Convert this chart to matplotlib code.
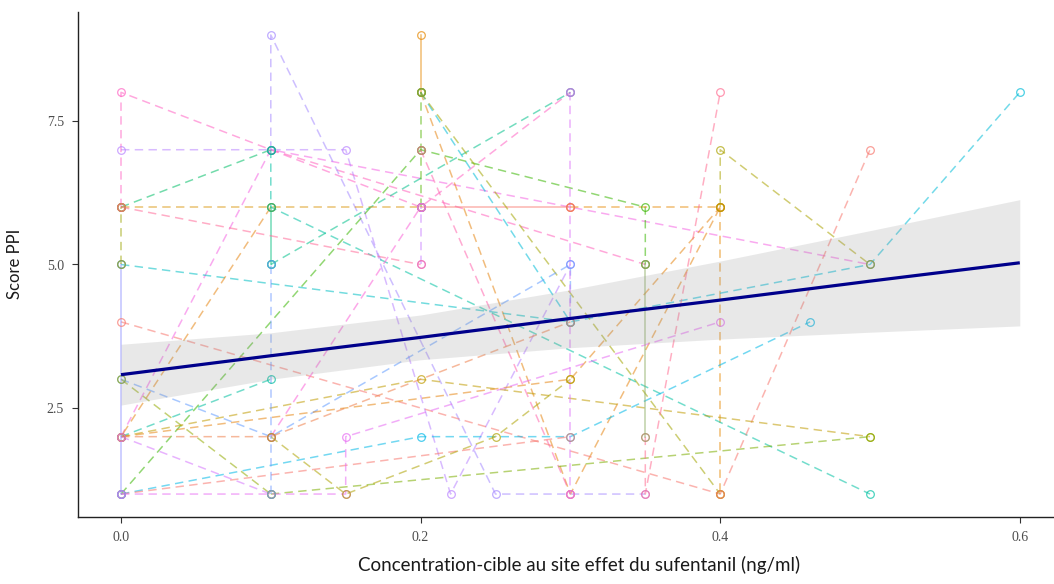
import matplotlib
matplotlib.use("Agg")
import matplotlib.pyplot as plt
import numpy as np
import pandas as pd

# ---------------- data ----------------
# long format: one row per observation, grouped by path id
path_id = ["A"]*5 + ["B"]*4 + ["C"]*2 + ["D"]*4 + ["E"]*4 + ["F"]*2 + ["G"]*4 + ["H"]*2 + ["I"]*3 \
        + ["J"]*2 + ["K"]*3 + ["L"]*2 + ["M"]*3 + ["N"]*2 + ["O"]*4 + ["P"]*2 + ["Q"]*2 + ["R"]*3 \
        + ["S"]*2 + ["T"]*3 + ["U"]*4 + ["V"]*2 + ["W"]*2 + ["X"]*3 + ["Y"]*4 + ["Z"]*3 + ["AA"]*2 \
        + ["AB"]*2 + ["AC"]*4 + ["AD"]*2 + ["AE"]*2 + ["AF"]*4 + ["AG"]*4 + ["AH"]*3 + ["AI"]*3 \
        + ["AJ"]*2 + ["AK"]*2 + ["AL"]*2 + ["AM"]*2 + ["AN"]*2 + ["AO"]*2 + ["AP"]*2 + ["AQ"]*2
conc = [0, 0, 0.1, 0.2, 0.3,          # A
        0, 0.1, 0.3, 0.5,             # B
        0.1, 0.35,                    # C
        0, 0.15, 0.22, 0.3,           # D
        0.1, 0.1, 0.25, 0.35,         # E
        0, 0.1,                       # F
        0, 0.2, 0.35, 0.35,           # G
        0.1, 0.3,                     # H
        0.2, 0.2, 0.2,                # I
        0, 0.2,                       # J
        0.3, 0.4, 0.4,                # K
        0.2, 0.3,                     # L
        0.2, 0.3, 0.4,                # M
        0.2, 0.2,                     # N
        0.2, 0.3, 0.5, 0.6,           # O
        0.2, 0.4,                     # P
        0.2, 0.3,                     # Q
        0.1, 0.1, 0.5,                # R
        0, 0.3,                       # S
        0, 0.4, 0.5,                  # T
        0, 0.1, 0.3, 0.3,             # U
        0, 0.1,                       # V
        0, 0.1,                       # W
        0, 0.2, 0.5,                  # X
        0.1, 0, 0.3, 0.4,             # Y
        0, 0.1, 0.3,                  # Z
        0.1, 0.2,                     # AA
        0, 0.1,                       # AB
        0, 0.2, 0.3, 0.46,            # AC
        0, 0.3,                       # AD
        0.1, 0.5,                     # AE
        0, 0.15, 0.15, 0.4,           # AF
        0.1, 0.15, 0.25, 0.3,         # AG
        0.35, 0.35, 0.4,              # AH
        0.4, 0.4, 0.5,                # AI
        0, 0,                         # AJ
        0, 0,                         # AK
        0.1, 0.1,                     # AL
        0.1, 0.1,                     # AM
        0.35, 0.35,                   # AN
        0.3, 0.3,                     # AO
        0.2, 0.2,                     # AP
        0, 0.2]                       # AQ
score = [6, 8, 7, 6, 8,               # A
         2, 7, 6, 5,                  # B
         7, 5,                        # C
         7, 7, 1, 5,                  # D
         7, 9, 1, 1,                  # E
         6, 7,                        # F
         1, 7, 6, 5,                  # G
         5, 8,                        # H
         6, 7, 8,                     # I
         6, 6,                        # J
         6, 6, 1,                     # K
         6, 6,                        # L
         8, 1, 6,                     # M
         8, 9,                        # N
         8, 4, 5, 8,                  # O
         8, 1,                        # P
         7, 1,                        # Q
         7, 6, 1,                     # R
         5, 4,                        # S
         4, 1, 7,                     # T
         3, 2, 5, 4,                  # U
         3, 1,                        # V
         2, 3,                        # W
         2, 3, 2,                     # X
         6, 2, 3, 6,                  # Y
         2, 2, 4,                     # Z
         2, 6,                        # AA
         2, 1,                        # AB
         1, 2, 2, 4,                  # AC
         1, 2,                        # AD
         1, 2,                        # AE
         1, 1, 2, 4,                  # AF
         2, 1, 2, 3,                  # AG
         2, 1, 8,                     # AH
         6, 7, 5,                     # AI
         1, 5,                        # AJ
         5, 6,                        # AK
         5, 6,                        # AL
         1, 5,                        # AM
         2, 5,                        # AN
         8, 1,                        # AO
         5, 6,                        # AP
         6, 5]                        # AQ

# linear fit and its confidence band, read at a few concentrations
band_x = [0.0, 0.1, 0.2, 0.3, 0.4, 0.5, 0.6]
fit_y = [3.08, 3.41, 3.73, 4.06, 4.38, 4.71, 5.03]
band_lo = [2.55, 3.00, 3.34, 3.55, 3.70, 3.82, 3.93]
band_hi = [3.61, 3.81, 4.12, 4.56, 5.06, 5.59, 6.13]

x_ticks = [0.0, 0.2, 0.4, 0.6]
x_tick_labels = ["0.0", "0.2", "0.4", "0.6"]
y_ticks = [2.5, 5.0, 7.5]
y_tick_labels = ["2.5", "5.0", "7.5"]
x_title = "Concentration-cible au site effet du sufentanil (ng/ml)"
y_title = "Score PPI"

# ---------------- styles ----------------
path_colors = {
    "A": "#FF61C3", "B": "#F564E3", "C": "#FF62BC", "D": "#B983FF", "E": "#A58AFF",
    "F": "#00BE67", "G": "#39B600", "H": "#00C08B", "I": "#53B400", "J": "#D89000",
    "K": "#E58700", "L": "#F8766D", "M": "#E68613", "N": "#E58700", "O": "#00BCD8",
    "P": "#A3A500", "Q": "#FF65AE", "R": "#00C1A3", "S": "#00BFC4", "T": "#F8766D",
    "U": "#619CFF", "V": "#93AA00", "W": "#00BFA0", "X": "#C09B00", "Y": "#E68613",
    "Z": "#EF7F49", "AA": "#FB61D7", "AB": "#D575FE", "AC": "#00B8E7", "AD": "#F8766D",
    "AE": "#7CAE00", "AF": "#E76BF3", "AG": "#AEA200", "AH": "#FF6C91", "AI": "#ABA300",
    "AJ": "#8F91FF", "AK": "#9AA300", "AL": "#00BF7D", "AM": "#6F9BFF", "AN": "#8AAB60",
    "AO": "#DC71FA", "AP": "#C77CFF", "AQ": "#FF6A98",
}
solid_paths = {"L", "N", "AJ", "AL", "AN"}

plt.rcParams["font.family"] = ["DejaVu Sans"]
fig = plt.figure(figsize=(10.54, 5.84), dpi=100)
L, R, B, T = 78, 1054, 517, 12
W, H = 1054, 584
ax = fig.add_axes([L / W, (H - B) / H, (R - L) / W, (B - T) / H])

df = pd.DataFrame({"id": path_id, "conc": conc, "score": score})
for pid, g in df.groupby("id", sort=False):
    col = path_colors[pid]
    ls = "-" if pid in solid_paths else (0, (5.5, 3.5))
    ax.plot(g["conc"], g["score"], color=col, lw=1.1, linestyle=ls, alpha=0.55, zorder=2)
    ax.plot(g["conc"], g["score"], linestyle="none", marker="o", ms=5.5, mfc="none",
            mec=col, mew=0.9, alpha=0.7, zorder=3)

ax.fill_between(band_x, band_lo, band_hi, color="#999999", alpha=0.22, lw=0, zorder=4)
ax.plot(band_x, fit_y, color="#00008B", lw=2.3, zorder=5, solid_capstyle="butt")

ax.set_xlim((L - 121) / 1498.0, (R - 121) / 1498.0)
ax.set_ylim(0.6, 9.4)
ax.set_xticks(x_ticks)
ax.set_xticklabels(x_tick_labels)
ax.set_yticks(y_ticks)
ax.set_yticklabels(y_tick_labels)
for lab in ax.get_xticklabels() + ax.get_yticklabels():
    lab.set_family(["Liberation Serif"])
    lab.set_fontsize(10)
    lab.set_color("#4D4D4D")
ax.tick_params(axis="both", length=4, width=0.8, color="#333333", pad=6)
for s in ["top", "right"]:
    ax.spines[s].set_visible(False)
for s in ["left", "bottom"]:
    ax.spines[s].set_linewidth(1.0)
    ax.spines[s].set_color("#222222")

fig.text(579 / W, 1 - 565 / H, x_title, ha="center", va="center",
         fontsize=13.5, family=["Lato", "DejaVu Sans"], color="#1a1a1a")
fig.text(15 / W, 1 - 264 / H, y_title, ha="center", va="center", rotation=90,
         fontsize=12, family=["Lato", "DejaVu Sans"], color="#1a1a1a")

fig.savefig("out.png", dpi=100, facecolor="white")
